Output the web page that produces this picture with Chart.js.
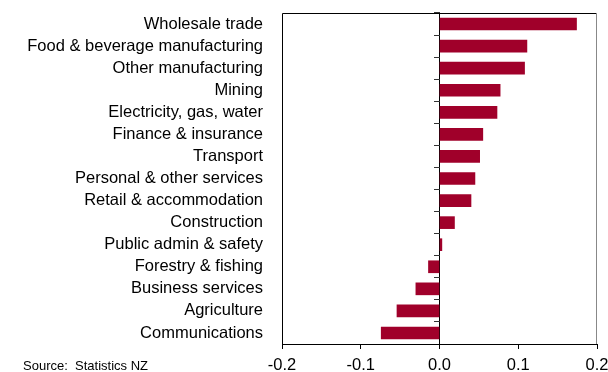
<!DOCTYPE html>
<html><head><meta charset="utf-8">
<script src="https://cdn.jsdelivr.net/npm/chart.js@4/dist/chart.umd.min.js"></script>
<style>html,body{margin:0;padding:0;background:#fff}#wrap{width:608px;height:372px;position:relative}</style>
</head><body><div id="wrap"><canvas id="c" width="608" height="372"></canvas></div>
<script>
const categories = ["Wholesale trade","Food & beverage manufacturing","Other manufacturing","Mining","Electricity, gas, water","Finance & insurance","Transport","Personal & other services","Retail & accommodation","Construction","Public admin & safety","Forestry & fishing","Business services","Agriculture","Communications"];
const values = [0.174,0.111,0.108,0.077,0.073,0.055,0.051,0.045,0.040,0.019,0.003,-0.014,-0.030,-0.054,-0.074];
const xTicks = [-0.2,-0.1,0.0,0.1,0.2];
const sourceText = "Source:  Statistics NZ";

const frame = {
  id:'frame',
  afterDraw(chart){
    const {ctx, chartArea:a} = chart;
    ctx.save();
    ctx.strokeStyle='#000'; ctx.lineWidth=1;
    ctx.beginPath();
    ctx.moveTo(a.left+0.5, a.bottom); ctx.lineTo(a.left+0.5, a.top+0.5);
    ctx.lineTo(a.right-0.5, a.top+0.5);
    ctx.stroke();
    ctx.strokeStyle='#888';
    ctx.beginPath(); ctx.moveTo(a.right-0.5, a.top); ctx.lineTo(a.right-0.5, a.bottom); ctx.stroke();
    ctx.fillStyle='#000';
    ctx.font='13px "Liberation Sans", Arial, sans-serif';
    ctx.textBaseline='middle'; ctx.textAlign='left';
    ctx.fillText(sourceText, 23, 366);
    ctx.restore();
  }
};

new Chart(document.getElementById('c'), {
  type:'bar',
  data:{labels:categories, datasets:[{data:values, backgroundColor:'#a0002a', borderWidth:0, barThickness:12}]},
  options:{
    indexAxis:'y', responsive:false, animation:false,
    layout:{padding:{top:13,right:11,left:0,bottom:0}},
    plugins:{legend:{display:false}, tooltip:{enabled:false}},
    scales:{
      x:{type:'linear', min:-0.2, max:0.2,
        afterBuildTicks(s){ s.ticks = xTicks.map(v=>({value:v})); },
        afterFit(s){ s.height = 28; s.paddingLeft = 0; s.paddingRight = 0; },
        grid:{drawOnChartArea:true, color:c=>c.tick && Math.abs(c.tick.value)<1e-9 ? '#000' : 'rgba(0,0,0,0)', tickColor:'#000', tickLength:5, lineWidth:1},
        border:{display:true, color:'#000', width:1},
        ticks:{color:'#000', font:{family:'"Liberation Sans", Arial, sans-serif', size:16.5}, padding:7, maxRotation:0,
          callback:(v)=>Number(v).toFixed(1)}
      },
      y:{type:'category', position:'left',
        afterFit(s){ s.width = 282; s.paddingTop = 0; s.paddingBottom = 0; },
        grid:{display:false}, border:{display:false},
        ticks:{color:'#000', font:{family:'"Liberation Sans", Arial, sans-serif', size:16.5}, padding:11, autoSkip:false}
      },
      y2:{type:'category', labels:categories, offset:true, position:{x:0}, axis:'y',
        afterFit(s){ s.paddingTop = 0; s.paddingBottom = 0; },
        grid:{offset:true, drawOnChartArea:false, tickLength:6, color:'#000', tickColor:'#333'},
        border:{display:false},
        ticks:{display:false}
      }
    }
  },
  plugins:[frame]
});
</script></body></html>
